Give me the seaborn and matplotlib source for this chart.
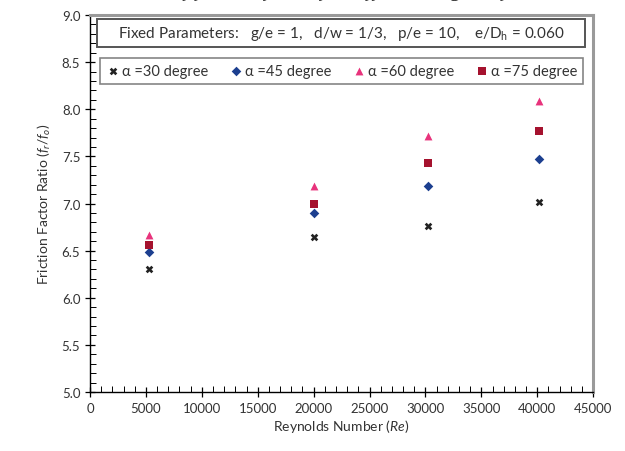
import matplotlib
matplotlib.use("Agg")
import matplotlib.pyplot as plt
from matplotlib.ticker import MultipleLocator
from matplotlib.patches import Rectangle
import seaborn as sns
import pandas as pd

reynolds = [5300, 20000, 30200, 40200]
angles = ["α =30 degree", "α =45 degree", "α =60 degree", "α =75 degree"]
ratio_30 = [6.30, 6.65, 6.76, 7.02]
ratio_45 = [6.49, 6.90, 7.19, 7.47]
ratio_60 = [6.67, 7.19, 7.72, 8.09]
ratio_75 = [6.56, 7.00, 7.43, 7.77]

series = [ratio_30, ratio_45, ratio_60, ratio_75]
rows = []
for name, vals in zip(angles, series):
    for x, y in zip(reynolds, vals):
        rows.append({"Re": x, "ratio": y, "angle": name})
df = pd.DataFrame(rows)

sns.set_style("white")
plt.rcParams['font.family'] = ['Lato', 'DejaVu Sans']
plt.rcParams['mathtext.fontset'] = 'custom'
plt.rcParams['mathtext.it'] = 'Lato:italic'
plt.rcParams['mathtext.rm'] = 'Lato'

fig = plt.figure(figsize=(6.25, 4.52), dpi=100)
ax = fig.add_axes([0.144, 0.1305, 0.805, 0.834])

palette = {angles[0]: "#222222", angles[1]: "#1c3f8f",
           angles[2]: "#e8337c", angles[3]: "#a5122e"}
markers = {angles[0]: "X", angles[1]: "D", angles[2]: "^", angles[3]: "s"}
sizes_map = {angles[0]: 30, angles[1]: 24, angles[2]: 32, angles[3]: 28}

for name in angles:
    sub = df[df["angle"] == name]
    sns.scatterplot(data=sub, x="Re", y="ratio", ax=ax, color=palette[name],
                    marker=markers[name], s=sizes_map[name], linewidth=0,
                    label=name, zorder=3)

ax.set_xlim(0, 45000)
ax.set_ylim(5.0, 9.0)
ax.xaxis.set_major_locator(MultipleLocator(5000))
ax.xaxis.set_minor_locator(MultipleLocator(1000))
ax.yaxis.set_major_locator(MultipleLocator(0.5))
ax.yaxis.set_minor_locator(MultipleLocator(0.1))
ax.yaxis.set_major_formatter(matplotlib.ticker.FormatStrFormatter('%.1f'))
ax.tick_params(axis='both', which='major', direction='inout', length=7,
               width=0.9, labelsize=9.5, color='black', labelcolor='#333333')
ax.tick_params(axis='both', which='minor', direction='in', length=4,
               width=0.7, color='black')
ax.tick_params(axis='x', which='both', bottom=True)
ax.tick_params(axis='y', which='both', left=True)

for side in ['left', 'bottom']:
    ax.spines[side].set_color('black')
    ax.spines[side].set_linewidth(1.0)
for side in ['top', 'right']:
    ax.spines[side].set_color('#9a9a9a')
    ax.spines[side].set_linewidth(2.2)

ax.set_xlabel("Reynolds Number ($Re$)", fontsize=10, color='#333333', labelpad=2)
ax.set_ylabel("Friction Factor Ratio ($f_r/f_o$)", fontsize=10, color='#333333', labelpad=6)

leg = ax.legend(loc='lower left', bbox_to_anchor=(0.0199, 0.817, 0.96, 0.077),
                mode='expand', ncol=4, frameon=True, fancybox=False,
                edgecolor='#666666', fontsize=10.5, handletextpad=0.1,
                columnspacing=1.0, borderpad=0.4, handlelength=1.0,
                borderaxespad=0)
leg.get_frame().set_linewidth(1.2)
for t in leg.get_texts():
    t.set_color('#333333')

box = Rectangle((0.014, 0.915), 0.97, 0.074, transform=ax.transAxes,
                facecolor='white', edgecolor='#555555', linewidth=1.4, zorder=5)
ax.add_patch(box)
ax.text(0.5, 0.952, "Fixed Parameters:   g/e = 1,   d/w = 1/3,   p/e = 10,    e/D$_\\mathregular{h}$ = 0.060",
        transform=ax.transAxes, ha='center', va='center', fontsize=11, color='#333333',
        zorder=6)

fig.text(0.525, 1.0035, "Variation of friction factor for different angles of attack",
         ha='center', va='baseline', fontsize=11, fontweight='bold', style='italic',
         family='DejaVu Serif')

fig.savefig("out.png", dpi=100)
